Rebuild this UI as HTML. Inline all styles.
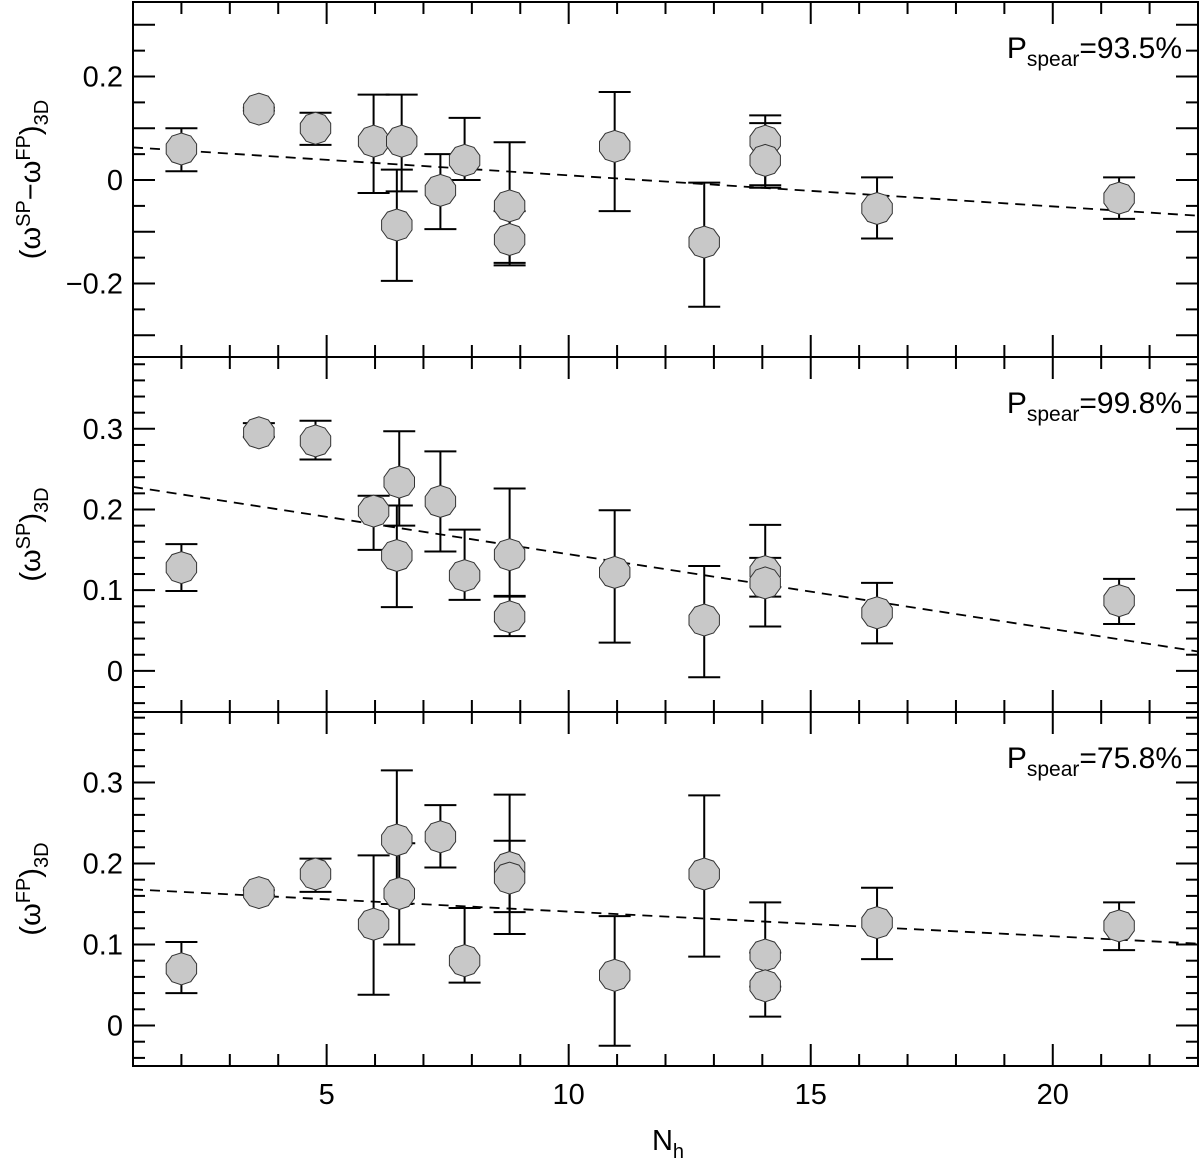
<!DOCTYPE html>
<html><head><meta charset="utf-8"><style>
body{margin:0;background:#fff;}
svg{display:block;font-family:"Liberation Sans",sans-serif;}
</style></head><body>
<svg id="chart" width="1200" height="1165" viewBox="0 0 1200 1165"></svg>
<script>
const xDom=[1,23.0];
const panelNames=["diff-panel","sp-panel","fp-panel"];
const pspear=["93.5%","99.8%","75.8%"];
const nh=[2.0,3.6,4.77,5.97,6.55,6.45,7.35,7.85,8.78,8.78,10.95,12.8,14.06,14.06,16.37,21.37];
const diffVals=[0.06,0.137,0.10,0.075,0.075,-0.087,-0.02,0.038,-0.05,-0.115,0.065,-0.12,0.075,0.038,-0.055,-0.035];
const diffHi=[0.10,0.14,0.13,0.165,0.165,0.02,0.05,0.12,0.073,-0.06,0.17,-0.005,0.125,0.11,0.005,0.005];
const diffLo=[0.017,0.134,0.068,-0.025,-0.022,-0.195,-0.095,0,-0.16,-0.165,-0.06,-0.245,-0.01,-0.015,-0.113,-0.075];
const spNh=[2.0,3.6,4.77,5.97,6.5,6.45,7.35,7.85,8.78,8.78,10.95,12.8,14.06,14.06,16.37,21.37];
const spVals=[0.128,0.295,0.285,0.198,0.234,0.143,0.21,0.118,0.144,0.067,0.122,0.063,0.123,0.109,0.072,0.087];
const spHi=[0.157,0.307,0.31,0.217,0.297,0.205,0.272,0.175,0.226,0.092,0.199,0.13,0.181,0.14,0.109,0.114];
const spLo=[0.099,0.29,0.262,0.15,0.18,0.079,0.148,0.088,0.093,0.043,0.035,-0.008,0.092,0.055,0.034,0.058];
const fpNh=[2.0,3.6,4.77,5.97,6.45,6.5,7.35,7.85,8.78,8.78,10.95,12.8,14.06,14.06,16.37,21.37];
const fpVals=[0.07,0.164,0.187,0.125,0.229,0.163,0.233,0.08,0.195,0.182,0.062,0.187,0.087,0.049,0.127,0.123];
const fpHi=[0.103,0.167,0.206,0.21,0.315,0.225,0.272,0.145,0.285,0.228,0.135,0.284,0.152,0.09,0.17,0.152];
const fpLo=[0.04,0.161,0.165,0.038,0.15,0.1,0.195,0.053,0.14,0.113,-0.025,0.085,0.048,0.011,0.082,0.093];
const fitA=[0.063,0.228,0.168];
const fitB=[-0.069,0.024,0.101];
const xTicks=[5,10,15,20];
const yTicksDiff=[-0.2,0,0.2];
const yTicksSp=[0,0.1,0.2,0.3];
const yTicksFp=[0,0.1,0.2,0.3];

const NS="http://www.w3.org/2000/svg";
const svg=document.getElementById('chart');
function mk(t,a,p){const e=document.createElementNS(NS,t);for(const k in a)e.setAttribute(k,a[k]);(p||svg).appendChild(e);return e;}
const L=133,R=1198;
const panels=[
 {top:2,bot:357,ymin:-0.342,ymax:0.344,x:nh,v:diffVals,hi:diffHi,lo:diffLo,ticks:yTicksDiff,minor:0.05,major:0.1},
 {top:357,bot:712,ymin:-0.051,ymax:0.389,x:spNh,v:spVals,hi:spHi,lo:spLo,ticks:yTicksSp,minor:0.02,major:0.1},
 {top:712,bot:1066,ymin:-0.050,ymax:0.387,x:fpNh,v:fpVals,hi:fpHi,lo:fpLo,ticks:yTicksFp,minor:0.02,major:0.1}
];
const X=v=>L+(v-xDom[0])/(xDom[1]-xDom[0])*(R-L);
panels.forEach((p,i)=>{
 const g=mk('g',{});
 
 
 const Y=v=>p.bot-(v-p.ymin)/(p.ymax-p.ymin)*(p.bot-p.top);
 const frame=mk('rect',{x:L,y:p.top,width:R-L,height:p.bot-p.top,fill:'none',stroke:'#000','stroke-width':2},g);
 
 
 for(let t=2;t<=23;t++){const maj=t%5===0;const len=maj?22:12;const x=X(t);
  mk('line',{x1:x,x2:x,y1:p.bot,y2:p.bot-len,stroke:'#000','stroke-width':2},g);
  mk('line',{x1:x,x2:x,y1:p.top,y2:p.top+len,stroke:'#000','stroke-width':2},g);}
 const start=Math.ceil(p.ymin/p.minor-1e-6);
 for(let k=start;k*p.minor<=p.ymax;k++){const v=k*p.minor;const maj=Math.abs(v/p.major-Math.round(v/p.major))<1e-6;const len=maj?22:12;const y=Y(v);
  mk('line',{x1:L,x2:L+len,y1:y,y2:y,stroke:'#000','stroke-width':2},g);
  mk('line',{x1:R,x2:R-len,y1:y,y2:y,stroke:'#000','stroke-width':2},g);}
 p.ticks.forEach(t=>{const tx=mk('text',{x:L-10,y:Y(t)+10,'text-anchor':'end','font-size':29},g);tx.textContent=(t===0?'0':t.toFixed(1).replace('-','−'));
  });
 const fl=mk('line',{x1:L,y1:Y(fitA[i]),x2:R,y2:Y(fitB[i]),stroke:'#000','stroke-width':1.8,'stroke-dasharray':'10,7'},g);
 
 p.x.forEach((xv,j)=>{const cx=X(xv);
  const e=mk('g',{},g);
  
  mk('line',{x1:cx,x2:cx,y1:Y(p.hi[j]),y2:Y(p.lo[j]),stroke:'#000','stroke-width':2},e);
  mk('line',{x1:cx-16,x2:cx+16,y1:Y(p.hi[j]),y2:Y(p.hi[j]),stroke:'#000','stroke-width':2},e);
  mk('line',{x1:cx-16,x2:cx+16,y1:Y(p.lo[j]),y2:Y(p.lo[j]),stroke:'#000','stroke-width':2},e);
 });
 p.x.forEach((xv,j)=>{const cx=X(xv),cy=Y(p.v[j]);let pts=[];
  for(let k=0;k<10;k++){const a=Math.PI*2*k/10+Math.PI/10;pts.push((cx+16*Math.cos(a)).toFixed(1)+','+(cy+16*Math.sin(a)).toFixed(1));}
  const c=mk('polygon',{points:pts.join(' '),fill:'#c8c8c8',stroke:'#333','stroke-width':1},g);
  
 });
 const ps=mk('text',{x:1182,y:p.top+56,'text-anchor':'end','font-size':30},g);
 
 ps.innerHTML='P<tspan font-size="21" dy="8">spear</tspan><tspan dy="-8">='+pspear[i]+'</tspan>';
 const cy=(p.top+p.bot)/2;
 const yl=mk('text',{x:0,y:0,transform:`translate(40,${cy}) rotate(-90)`,'text-anchor':'middle','font-size':29},g);
 
 if(i===0) yl.innerHTML='(ω<tspan font-size="20" dy="-10">SP</tspan><tspan dy="10">−ω</tspan><tspan font-size="20" dy="-10">FP</tspan><tspan dy="10">)</tspan><tspan font-size="20" dy="8">3D</tspan>';
 else yl.innerHTML='(ω<tspan font-size="20" dy="-10">'+(i===1?'SP':'FP')+'</tspan><tspan dy="10">)</tspan><tspan font-size="20" dy="8">3D</tspan>';
});
xTicks.forEach(t=>{const tx=mk('text',{x:X(t),y:1104,'text-anchor':'middle','font-size':29});tx.textContent=t;
 });
const xl=mk('text',{x:668,y:1150,'text-anchor':'middle','font-size':29});

xl.innerHTML='N<tspan font-size="20" dy="8">h</tspan>';
</script>
</body></html>
